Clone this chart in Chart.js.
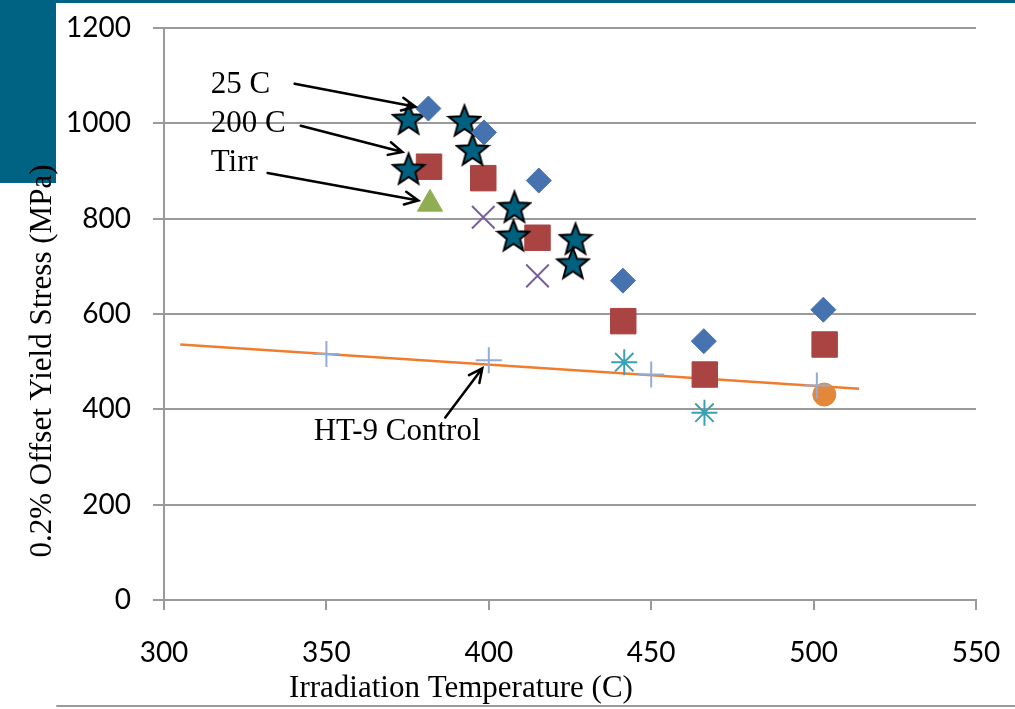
<!DOCTYPE html>
<html>
<head>
<meta charset="utf-8">
<script src="https://cdn.jsdelivr.net/npm/chart.js@4.4.0/dist/chart.umd.min.js"></script>
<style>
  html, body { margin: 0; padding: 0; background: #fff; }
</style>
</head>
<body>
<canvas id="yieldChart" width="1015" height="709"></canvas>
<script>
// irradiation temperature (C) vs 0.2% offset yield stress (MPa)
const tempDiamond   = [381.4, 398.5, 415.4, 441.3, 466.2, 503.0];
const stressDiamond = [1031, 981, 880, 670, 543, 609];

const tempSquare   = [381.6, 398.3, 415.0, 441.4, 466.5, 503.4];
const stressSquare = [909, 885, 760, 585, 473, 536];

const tempTriangle   = [381.9];
const stressTriangle = [831];

const tempCrossRot   = [398.3, 415.0];
const stressCrossRot = [803, 680];

const tempAsterisk   = [441.7, 466.4];
const stressAsterisk = [499, 393];

const tempControl   = [350, 400, 450, 501];
const stressControl = [516, 503, 473, 450];

const tempCircle   = [503.3];
const stressCircle = [431];

const tempStar   = [375.3, 392.5, 395.0, 375.3, 407.9, 407.6, 426.7, 425.9];
const stressStar = [1009, 1005, 944, 904, 824, 764, 757, 706];

// control trend line end points
const tempTrend   = [305, 514];
const stressTrend = [536, 443];

const xTicks = [300, 350, 400, 450, 500, 550];
const yTicks = [0, 200, 400, 600, 800, 1000, 1200];

// text notes with arrows, in data units: [label, textX, textY, fromX, fromY, toX, toY]
const notes = [
  ['25 C', 314.4, 1064, 340.2, 1083, 377.4, 1035],
  ['200 C', 314.4, 982, 342.1, 995, 373.4, 940],
  ['Tirr', 314.4, 900, 331.9, 896, 378.3, 838],
  ['HT-9 Control', 346.1, 335, 386.6, 383, 398.0, 486]
];

const pts = (xs, ys) => xs.map((x, i) => ({ x: x, y: ys[i] }));

// filled five point star with black outline
function makeStar() {
  const c = document.createElement('canvas');
  c.width = 36; c.height = 36;
  const g = c.getContext('2d');
  g.beginPath();
  for (let i = 0; i < 10; i++) {
    const r = i % 2 === 0 ? 16.5 : 7;
    const a = -Math.PI / 2 + i * Math.PI / 5;
    const px = 18 + r * Math.cos(a), py = 19 + r * Math.sin(a);
    if (i === 0) g.moveTo(px, py); else g.lineTo(px, py);
  }
  g.closePath();
  g.fillStyle = '#00607f';
  g.fill();
  g.lineWidth = 2;
  g.strokeStyle = '#000';
  g.stroke();
  return c;
}

const serif = '"Liberation Serif", "Times New Roman", serif';

const decor = {
  id: 'decor',
  beforeDraw(chart) {
    const ctx = chart.ctx;
    ctx.save();
    ctx.fillStyle = '#fff';
    ctx.fillRect(0, 0, chart.width, chart.height);
    ctx.fillStyle = '#006384';
    ctx.fillRect(0, 0, chart.width, 3);
    ctx.fillRect(0, 0, 56, 183);
    ctx.restore();
  },
  afterDraw(chart) {
    const ctx = chart.ctx;
    const xs = chart.scales.x, ys = chart.scales.y;
    ctx.save();
    ctx.fillStyle = '#000';
    ctx.font = '31px ' + serif;
    ctx.textBaseline = 'alphabetic';

    // axis titles
    ctx.textAlign = 'center';
    ctx.fillText('Irradiation Temperature (C)', 461, 697);
    ctx.save();
    ctx.translate(51, 361);
    ctx.rotate(-Math.PI / 2);
    ctx.fillText('0.2% Offset Yield Stress (MPa)', 0, 0);
    ctx.restore();

    // notes with arrows
    ctx.textAlign = 'left';
    ctx.strokeStyle = '#000';
    ctx.lineWidth = 2.5;
    ctx.lineCap = 'round';
    notes.forEach(n => {
      ctx.fillText(n[0], xs.getPixelForValue(n[1]), ys.getPixelForValue(n[2]));
      const x1 = xs.getPixelForValue(n[3]), y1 = ys.getPixelForValue(n[4]);
      const x2 = xs.getPixelForValue(n[5]), y2 = ys.getPixelForValue(n[6]);
      const ang = Math.atan2(y2 - y1, x2 - x1);
      ctx.beginPath();
      ctx.moveTo(x1, y1);
      ctx.lineTo(x2, y2);
      ctx.moveTo(x2 - 15 * Math.cos(ang - 0.45), y2 - 15 * Math.sin(ang - 0.45));
      ctx.lineTo(x2, y2);
      ctx.lineTo(x2 - 15 * Math.cos(ang + 0.45), y2 - 15 * Math.sin(ang + 0.45));
      ctx.stroke();
    });

    // slide rule under the chart
    ctx.strokeStyle = '#9a9a9a';
    ctx.lineWidth = 2;
    ctx.beginPath();
    ctx.moveTo(57, 706);
    ctx.lineTo(chart.width, 706);
    ctx.stroke();
    ctx.restore();
  }
};

const gridGrey = '#9a9a9a';
const tickFont = { family: 'Lato, "Open Sans", sans-serif', size: 28 };

new Chart(document.getElementById('yieldChart'), {
  type: 'scatter',
  data: {
    datasets: [
      { label: '25 C', data: pts(tempDiamond, stressDiamond), pointStyle: 'rectRot',
        pointRadius: 12.5, backgroundColor: '#4672b0', borderColor: '#4672b0', borderWidth: 1 },
      { label: 'Star', data: pts(tempStar, stressStar), pointStyle: makeStar() },
      { label: '200 C', data: pts(tempSquare, stressSquare), pointStyle: 'rect',
        pointRadius: 18, backgroundColor: '#a94442', borderColor: '#a94442', borderWidth: 1 },
      { label: 'Tirr', data: pts(tempTriangle, stressTriangle), pointStyle: 'triangle',
        pointRadius: 14.5, backgroundColor: '#8fae51', borderColor: '#8fae51', borderWidth: 1 },
      { label: 'X', data: pts(tempCrossRot, stressCrossRot), pointStyle: 'crossRot',
        pointRadius: 16, borderColor: '#7a5f9e', borderWidth: 2 },
      { label: 'Asterisk', data: pts(tempAsterisk, stressAsterisk), pointStyle: 'star',
        pointRadius: 13, borderColor: '#3aa0b5', borderWidth: 2 },
      { label: 'HT-9 Control', data: pts(tempControl, stressControl), pointStyle: 'cross',
        pointRadius: 13, borderColor: '#93acd6', borderWidth: 2 },
      { label: 'Circle', data: pts(tempCircle, stressCircle), pointStyle: 'circle',
        pointRadius: 11.5, backgroundColor: '#e3883a', borderColor: '#e3883a', borderWidth: 1 },
      { label: 'Trend', data: pts(tempTrend, stressTrend), type: 'line', showLine: true,
        pointRadius: 0, borderColor: '#f07d2e', borderWidth: 2.5, fill: false }
    ]
  },
  options: {
    responsive: false,
    animation: false,
    devicePixelRatio: 1,
    layout: { padding: { left: 0, right: 39, top: 28, bottom: 0 } },
    plugins: { legend: { display: false }, tooltip: { enabled: false } },
    scales: {
      x: {
        type: 'linear', min: 300, max: 550,
        afterBuildTicks: s => { s.ticks = xTicks.map(v => ({ value: v })); },
        afterFit: s => { s.height = 109; s.paddingLeft = 0; s.paddingRight = 0; },
        ticks: { font: tickFont, color: '#000', padding: 26, maxRotation: 0,
                 callback: v => String(v) },
        grid: { drawOnChartArea: false, drawTicks: true, tickLength: 10, color: gridGrey, lineWidth: 2 },
        border: { color: gridGrey, width: 2 }
      },
      y: {
        min: 0, max: 1200,
        afterBuildTicks: s => { s.ticks = yTicks.map(v => ({ value: v })); },
        afterFit: s => { s.width = 164; s.paddingTop = 0; s.paddingBottom = 0; },
        ticks: { font: tickFont, color: '#000', padding: 22, callback: v => String(v) },
        grid: { color: gridGrey, lineWidth: 2, tickLength: 11 },
        border: { color: gridGrey, width: 2 }
      }
    }
  },
  plugins: [decor]
});
</script>
</body>
</html>
